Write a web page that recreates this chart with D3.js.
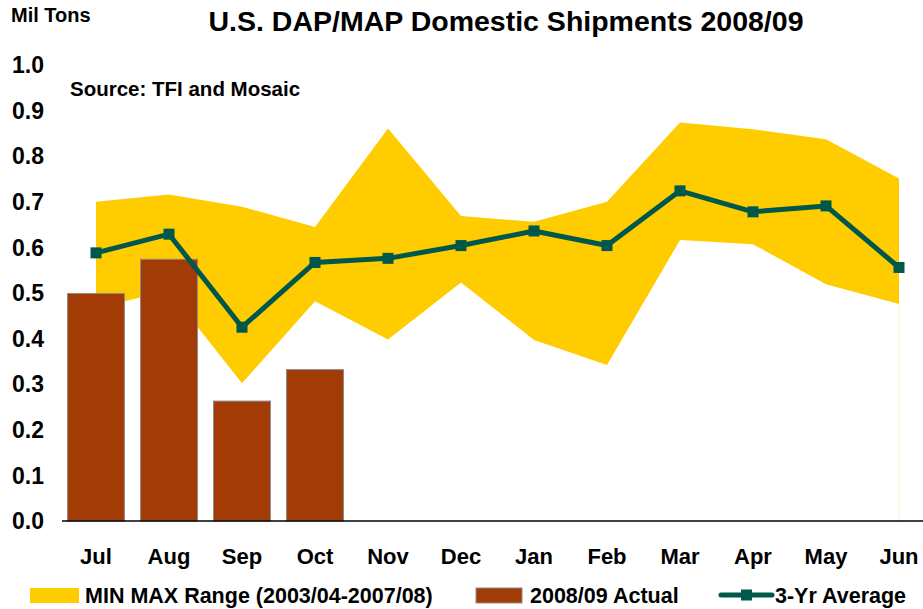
<!DOCTYPE html>
<html>
<head>
<meta charset="utf-8">
<script src="https://cdn.jsdelivr.net/npm/d3@7"></script>
<style>
  body { margin: 0; background: #fff; }
  text { font-family: "Liberation Sans", Arial, sans-serif; font-weight: bold; fill: #000; }
</style>
</head>
<body>
<div id="chart"></div>
<script>
// data
var months = ["Jul", "Aug", "Sep", "Oct", "Nov", "Dec", "Jan", "Feb", "Mar", "Apr", "May", "Jun"];
var rangeMax = [0.700, 0.716, 0.689, 0.645, 0.861, 0.669, 0.656, 0.700, 0.874, 0.859, 0.837, 0.751];
var rangeMin = [0.467, 0.505, 0.302, 0.482, 0.398, 0.523, 0.397, 0.342, 0.616, 0.607, 0.519, 0.476];
var actual = [0.499, 0.574, 0.263, 0.332];
var avg3yr = [0.588, 0.629, 0.425, 0.567, 0.576, 0.604, 0.636, 0.604, 0.724, 0.678, 0.691, 0.556];
var yTicks = [0, 0.1, 0.2, 0.3, 0.4, 0.5, 0.6, 0.7, 0.8, 0.9, 1.0];

var w = 923, h = 609;
var yellow = "#FFCC00", brown = "#A33B06", teal = "#00574B";

var svg = d3.select("#chart").append("svg")
  .attr("width", w)
  .attr("height", h);

var x = d3.scaleBand().domain(months).range([59.5, 935.5]).paddingInner(0.22).paddingOuter(0.11);
var y = d3.scaleLinear().domain([0, 1]).range([521, 65]);
var cx = function(m) { return x(m) + x.bandwidth() / 2; };

// min-max band
var band = months.map(function(m, i) { return { m: m, lo: rangeMin[i], hi: rangeMax[i] }; });
svg.append("path")
  .datum(band)
  .attr("fill", yellow)
  .attr("d", d3.area()
    .x(function(d) { return cx(d.m); })
    .y0(function(d) { return y(d.lo); })
    .y1(function(d) { return y(d.hi); }));

// faint edge left by the white area at the end
svg.append("line")
  .attr("x1", cx("Jun")).attr("x2", cx("Jun"))
  .attr("y1", y(rangeMin[11])).attr("y2", y(0))
  .attr("stroke", "#FBEFC0").attr("stroke-width", 1);

// bars
svg.selectAll("rect.bar")
  .data(actual)
  .enter()
  .append("rect")
  .attr("class", "bar")
  .attr("x", function(d, i) { return x(months[i]); })
  .attr("y", function(d) { return y(d); })
  .attr("width", x.bandwidth())
  .attr("height", function(d) { return y(0) - y(d); })
  .attr("fill", brown)
  .attr("stroke", "#8C8C8C")
  .attr("stroke-width", 1);

// 3-yr average
svg.append("path")
  .datum(avg3yr)
  .attr("fill", "none")
  .attr("stroke", teal)
  .attr("stroke-width", 5)
  .attr("stroke-linejoin", "round")
  .attr("d", d3.line()
    .x(function(d, i) { return cx(months[i]); })
    .y(function(d) { return y(d); }));

svg.selectAll("rect.mk")
  .data(avg3yr)
  .enter()
  .append("rect")
  .attr("class", "mk")
  .attr("x", function(d, i) { return cx(months[i]) - 5.5; })
  .attr("y", function(d) { return y(d) - 5.5; })
  .attr("width", 11)
  .attr("height", 11)
  .attr("fill", teal);

// axes
svg.append("line")
  .attr("x1", 62).attr("x2", w)
  .attr("y1", y(0)).attr("y2", y(0))
  .attr("stroke", "#000").attr("stroke-width", 1.5);

svg.selectAll("text.ytick")
  .data(yTicks)
  .enter()
  .append("text")
  .attr("class", "ytick")
  .attr("x", 44)
  .attr("y", function(d) { return y(d); })
  .attr("dy", "0.36em")
  .attr("text-anchor", "end")
  .attr("font-size", 23)
  .text(function(d) { return d.toFixed(1); });

svg.selectAll("text.xtick")
  .data(months)
  .enter()
  .append("text")
  .attr("class", "xtick")
  .attr("x", function(d) { return cx(d); })
  .attr("y", 564)
  .attr("text-anchor", "middle")
  .attr("font-size", 22)
  .text(function(d) { return d; });

// titles
svg.append("text")
  .attr("x", 506).attr("y", 31)
  .attr("text-anchor", "middle")
  .attr("font-size", 28.5)
  .text("U.S. DAP/MAP Domestic Shipments 2008/09");

svg.append("text")
  .attr("x", 11).attr("y", 22)
  .attr("font-size", 20)
  .text("Mil Tons");

svg.append("text")
  .attr("x", 70).attr("y", 96)
  .attr("font-size", 20.5)
  .text("Source: TFI and Mosaic");

// legend
var lg = svg.append("g");
lg.append("rect").attr("x", 30).attr("y", 588).attr("width", 49).attr("height", 15).attr("fill", yellow);
lg.append("text").attr("x", 85).attr("y", 603).attr("font-size", 21.5).text("MIN MAX Range (2003/04-2007/08)");
lg.append("rect").attr("x", 476).attr("y", 588).attr("width", 46).attr("height", 15).attr("fill", brown).attr("stroke", "#8C8C8C");
lg.append("text").attr("x", 530).attr("y", 603).attr("font-size", 21.5).text("2008/09 Actual");
lg.append("line").attr("x1", 721).attr("x2", 772).attr("y1", 595).attr("y2", 595)
  .attr("stroke", teal).attr("stroke-width", 5).attr("stroke-linecap", "round");
lg.append("rect").attr("x", 741).attr("y", 589.5).attr("width", 11).attr("height", 11).attr("fill", teal);
lg.append("text").attr("x", 775).attr("y", 603).attr("font-size", 21.5).text("3-Yr Average");
</script>
</body>
</html>
